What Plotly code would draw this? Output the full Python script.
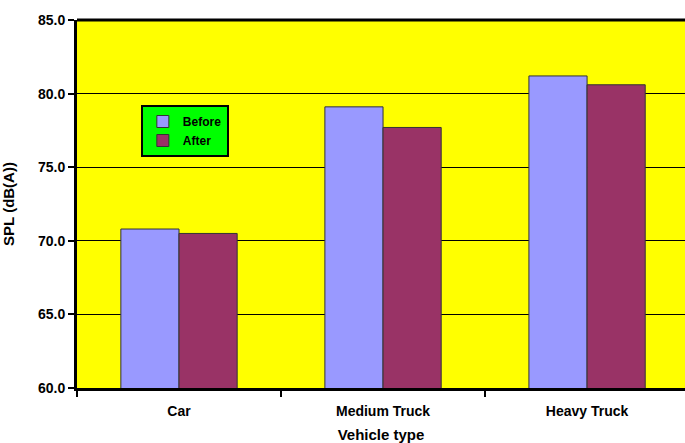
import plotly.graph_objects as go

# Data
vehicles = ['Car', 'Medium Truck', 'Heavy Truck']
spl_before = [70.8, 79.1, 81.2]
spl_after = [70.5, 77.7, 80.6]

FONT = 'Liberation Sans, Arial, sans-serif'

fig = go.Figure()
fig.add_trace(go.Bar(
    x=vehicles, y=spl_before, name='Before',
    marker=dict(color='#9999FF', line=dict(color='#333333', width=1)),
))
fig.add_trace(go.Bar(
    x=vehicles, y=spl_after, name='After',
    marker=dict(color='#993366', line=dict(color='#333333', width=1)),
))

fig.update_layout(
    width=685, height=443,
    barmode='group', bargap=0.43, bargroupgap=0,
    paper_bgcolor='white', plot_bgcolor='#FFFF00',
    font=dict(family=FONT, size=14, color='black'),
    margin=dict(l=77, r=0, t=20, b=55, autoexpand=False),
    showlegend=True,
    legend=dict(
        x=0.105, y=0.769, xanchor='left', yanchor='top',
        bgcolor='#00FF00', bordercolor='black', borderwidth=2,
        font=dict(family=FONT, size=12, color='black', weight='bold'),
        itemwidth=30,
    ),
    xaxis=dict(
        # the plot area runs a few pixels past the right edge of the window
        range=[-0.5, 2.48], automargin=False,
        showline=True, linecolor='black', linewidth=3,
        ticks='outside', tickson='boundaries', ticklen=6, tickcolor='black', tickwidth=2,
        ticklabelstandoff=8,
        tickfont=dict(family=FONT, size=14, weight='bold'),
        title=dict(text='Vehicle type', font=dict(family=FONT, size=15, weight='bold'), standoff=14),
    ),
    yaxis=dict(
        range=[60, 85], dtick=5, tickformat='.1f', automargin=False,
        showline=True, linecolor='black', linewidth=3,
        ticks='outside', ticklen=6, tickcolor='black', tickwidth=2,
        showgrid=True, gridcolor='black', gridwidth=1,
        tickfont=dict(family=FONT, size=14, weight='bold'),
        title=dict(text='SPL (dB(A))', font=dict(family=FONT, size=15, weight='bold'), standoff=20),
    ),
)

# thick top border of the plot area
fig.add_shape(type='line', xref='paper', yref='paper', x0=0, x1=1, y0=1, y1=1,
              line=dict(color='black', width=3))

# drop the default page margin so the chart sits at the window corner
fig.write_html('out.html', config={'displayModeBar': False},
               post_script="document.body.style.margin='0';")
